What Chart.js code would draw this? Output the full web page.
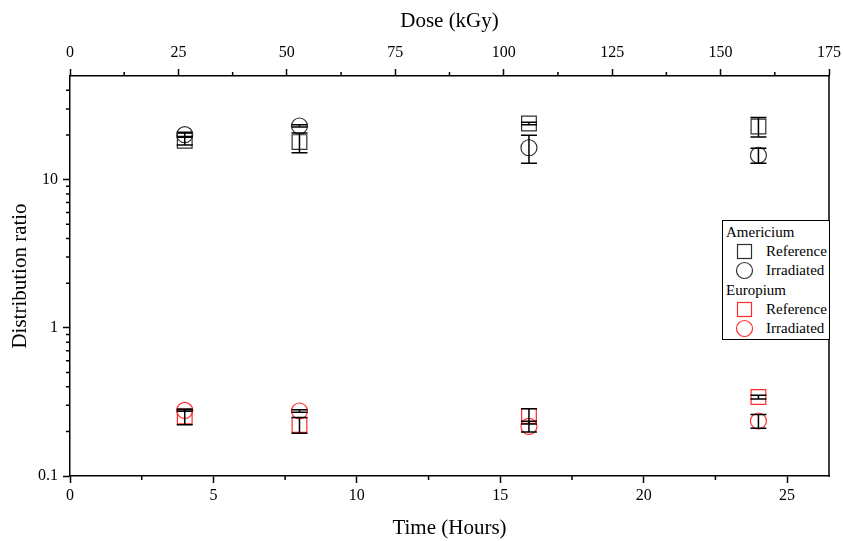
<!DOCTYPE html>
<html>
<head>
<meta charset="utf-8">
<script src="https://cdn.jsdelivr.net/npm/chart.js@4.4.1/dist/chart.umd.min.js"></script>
<style>
html,body{margin:0;padding:0;background:#fff;}
#wrap{position:relative;width:843px;height:541px;}
#legend{position:absolute;left:722px;top:220px;width:106px;height:118px;border:1px solid #000;background:#fff;
  font-family:'Liberation Serif','Times New Roman',serif;font-size:15px;color:#000;}
#legend .row{position:absolute;left:0;height:19px;line-height:19px;white-space:nowrap;}
#legend .hdr{left:3px;}
#legend svg{position:absolute;left:12px;top:0;}
#legend .lbl{position:absolute;left:43px;top:0;}
</style>
</head>
<body>
<div id="wrap">
<canvas id="c" width="843" height="541"></canvas>
<div id="legend"></div>
</div>
<script>
// ---- data ----
const timeHours = [4, 8, 16, 24];
const amReference = [18.3, 17.9, 23.9, 22.8];
const amReferenceErr = [1.2, 2.7, 0.5, 3.4];
const amIrradiated = [20.1, 23.0, 16.4, 14.6];
const amIrradiatedErr = [0.8, 0.4, 3.5, 1.7];
const euReference = [0.252, 0.221, 0.254, 0.341];
const euReferenceErr = [0.03, 0.027, 0.03, 0.01];
const euIrradiated = [0.277, 0.2745, 0.216, 0.235];
const euIrradiatedErr = [0.004, 0.005, 0.018, 0.025];

const timeTicks = [0, 5, 10, 15, 20, 25];
const timeMinor = [2.5, 7.5, 12.5, 17.5, 22.5];
const doseTicks = [0, 25, 50, 75, 100, 125, 150, 175];
const doseMinor = [12.5, 37.5, 62.5, 87.5, 112.5, 137.5, 162.5];
const ratioTicks = [0.1, 1, 10];
const ratioMinor = [0.2,0.3,0.4,0.5,0.6,0.7,0.8,0.9,2,3,4,5,6,7,8,9,20,30,40];
const timeRange = [0, 26.46];
const doseRange = [0, 175];
const ratioRange = [0.1, 50];

const legendGroups = ['Americium', 'Europium'];
const legendItems = ['Reference', 'Irradiated'];

// ---- styling ----
const FONT = "'Liberation Serif','Times New Roman',serif";
const BLACK = '#303030';
const RED = '#ff2a2a';
const tickFont = {family: FONT, size: 16};
const titleFont = {family: FONT, size: 21};

function pts(ys){ return timeHours.map((t,i)=>({x:t, y:ys[i]})); }

function mkSet(label, ys, errs, color, style){
  return {
    label, data: pts(ys), errors: errs,
    showLine:false,
    pointStyle: style,
    pointRadius: style==='rect' ? 10.4 : 8,
    pointHoverRadius: style==='rect' ? 10.4 : 8,
    pointBorderWidth: 1.2,
    pointBorderColor: color,
    pointBackgroundColor: 'rgba(0,0,0,0)',
    borderColor: color
  };
}

const decor = {
  id: 'decor',
  afterDatasetsDraw(chart){
    const ctx = chart.ctx, ys = chart.scales.y;
    ctx.save();
    ctx.strokeStyle = '#000';
    ctx.lineWidth = 1.5;
    chart.data.datasets.forEach((ds, di)=>{
      const meta = chart.getDatasetMeta(di);
      meta.data.forEach((el, j)=>{
        const v = ds.data[j].y, e = ds.errors[j];
        const y1 = ys.getPixelForValue(v + e), y2 = ys.getPixelForValue(v - e);
        const x = el.x, hw = 8;
        ctx.beginPath();
        ctx.moveTo(x, y1); ctx.lineTo(x, y2);
        ctx.moveTo(x - hw, y1); ctx.lineTo(x + hw, y1);
        ctx.moveTo(x - hw, y2); ctx.lineTo(x + hw, y2);
        ctx.stroke();
      });
    });
    ctx.restore();
  },
  afterDraw(chart){
    const ctx = chart.ctx, a = chart.chartArea;
    const sx = chart.scales.x, sx2 = chart.scales.x2, sy = chart.scales.y;
    ctx.save();
    ctx.strokeStyle = '#000';
    ctx.lineWidth = 1.5;
    ctx.beginPath();
    timeMinor.forEach(v=>{ const p = sx.getPixelForValue(v); ctx.moveTo(p, a.bottom); ctx.lineTo(p, a.bottom + 4); });
    doseMinor.forEach(v=>{ const p = sx2.getPixelForValue(v); ctx.moveTo(p, a.top); ctx.lineTo(p, a.top - 4); });
    ratioMinor.forEach(v=>{ const p = sy.getPixelForValue(v); ctx.moveTo(a.left, p); ctx.lineTo(a.left - 4, p); });
    ctx.moveTo(a.right, a.top - 0.75); ctx.lineTo(a.right, a.bottom + 0.75);
    ctx.stroke();
    ctx.restore();
  }
};

const gridOpts = {display:true, drawOnChartArea:false, drawTicks:true, tickLength:7, tickWidth:1.5, tickColor:'#000'};
const borderOpts = {display:true, color:'#000', width:1.5};
function noSidePad(s){ s.paddingLeft = 0; s.paddingRight = 0; }

new Chart(document.getElementById('c'), {
  type: 'scatter',
  data: {
    datasets: [
      mkSet('Americium Reference', amReference, amReferenceErr, BLACK, 'rect'),
      mkSet('Americium Irradiated', amIrradiated, amIrradiatedErr, BLACK, 'circle'),
      mkSet('Europium Reference', euReference, euReferenceErr, RED, 'rect'),
      mkSet('Europium Irradiated', euIrradiated, euIrradiatedErr, RED, 'circle')
    ]
  },
  options: {
    responsive: false,
    animation: false,
    events: [],
    layout: {padding: {left:0, right:14, top:0, bottom:0}},
    plugins: {legend:{display:false}, tooltip:{enabled:false}},
    scales: {
      x: {
        type:'linear', position:'bottom', min: timeRange[0], max: timeRange[1],
        afterBuildTicks: s => { s.ticks = timeTicks.map(v=>({value:v})); },
        afterFit: s => { s.height = 65; noSidePad(s); },
        ticks: {font: tickFont, color:'#000', padding:3, maxRotation:0, autoSkip:false, callback: v => String(v)},
        grid: gridOpts, border: borderOpts,
        title: {display:true, text:'Time (Hours)', font: titleFont, color:'#000', padding:{top:0, bottom:0}}
      },
      x2: {
        type:'linear', axis:'x', position:'top', min: doseRange[0], max: doseRange[1],
        afterBuildTicks: s => { s.ticks = doseTicks.map(v=>({value:v})); },
        afterFit: s => { s.height = 76; noSidePad(s); },
        ticks: {font: tickFont, color:'#000', padding:7, maxRotation:0, autoSkip:false, callback: v => String(v)},
        grid: gridOpts, border: borderOpts,
        title: {display:true, text:'Dose (kGy)', font: titleFont, color:'#000', padding:{top:9, bottom:0}}
      },
      y: {
        type:'logarithmic', position:'left', min: ratioRange[0], max: ratioRange[1],
        afterBuildTicks: s => { s.ticks = ratioTicks.map(v=>({value:v})); },
        afterFit: s => { s.width = 70; s.paddingTop = 0; s.paddingBottom = 0; },
        ticks: {font: tickFont, color:'#000', padding:5, autoSkip:false, callback: v => String(v)},
        grid: gridOpts, border: borderOpts,
        title: {display:true, text:'Distribution ratio', font: titleFont, color:'#000', padding:{top:8, bottom:0}}
      }
    }
  },
  plugins: [decor]
});

// ---- legend (HTML text) ----
(function(){
  const lg = document.getElementById('legend');
  const colors = [BLACK, RED];
  const centers = [11, 30, 49, 69, 88, 107];
  let k = 0;
  legendGroups.forEach((g, gi)=>{
    const h = document.createElement('div');
    h.className = 'row hdr'; h.style.top = (centers[k++] - 9.5) + 'px'; h.textContent = g;
    lg.appendChild(h);
    legendItems.forEach((it, ii)=>{
      const r = document.createElement('div');
      r.className = 'row'; r.style.top = (centers[k++] - 9.5) + 'px'; r.style.width = '106px';
      const c = colors[gi];
      const shape = ii === 0
        ? `<rect x="2.5" y="2.5" width="14" height="14" fill="none" stroke="${c}" stroke-width="1.2"/>`
        : `<circle cx="9.5" cy="9.5" r="8" fill="none" stroke="${c}" stroke-width="1.2"/>`;
      r.innerHTML = `<svg width="19" height="19" viewBox="0 0 19 19">${shape}</svg><span class="lbl">${it}</span>`;
      lg.appendChild(r);
    });
  });
})();
</script>
</body>
</html>
